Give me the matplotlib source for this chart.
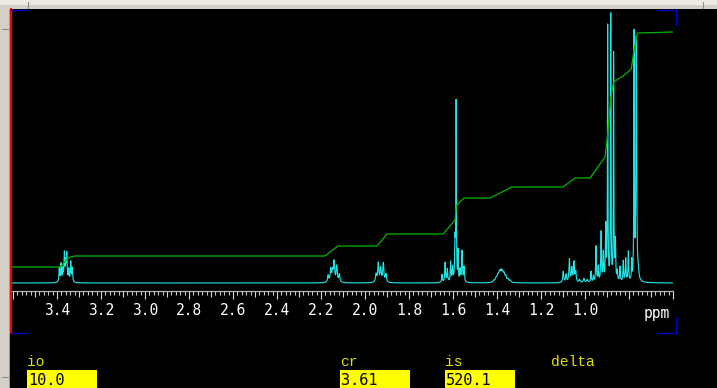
import numpy as np
import matplotlib
matplotlib.use("Agg")
import matplotlib.pyplot as plt
from matplotlib.patches import Rectangle
from matplotlib.ticker import MultipleLocator, FuncFormatter

plt.rcParams['font.family'] = ['DejaVu Sans Mono']

# peak list of the 1H spectrum: shift (ppm), height, half width (ppm)
shifts = [3.390, 3.382, 3.374, 3.367, 3.361, 3.356, 3.347, 3.338, 3.331,
          2.168, 2.156, 2.148, 2.141, 2.129, 2.117,
          1.950, 1.940, 1.929, 1.917, 1.905,
          1.650, 1.636, 1.626, 1.611, 1.602, 1.591, 1.586, 1.577, 1.568, 1.559, 1.550,
          1.415, 1.404, 1.396, 1.389, 1.382, 1.375, 1.368, 1.360, 1.350, 1.340,
          1.099, 1.086, 1.071, 1.060, 1.050, 1.042, 1.025, 1.005, 0.990,
          0.973, 0.962, 0.950, 0.940, 0.927, 0.917, 0.906, 0.897, 0.883, 0.870,
          0.862, 0.853, 0.841, 0.826, 0.815, 0.803, 0.788, 0.777, 0.767, 0.758,
          0.645]
heights = [14, 18, 12, 28, 18, 27, 12, 20, 14,
           7, 13, 10, 20, 16, 8,
           8, 19, 14, 19, 8,
           8, 20, 13, 20, 14, 40, 179, 30, 12, 31, 15,
           2, 4, 6, 8, 9, 8, 7, 5, 3, 2,
           11, 8, 23, 14, 20, 10, 3, 4, 3,
           11, 6, 36, 15, 50, 28, 55, 258, 268, 228,
           40, 10, 15, 21, 23, 30, 20, 244, 244, 8,
           2]
widths = [0.002] * 9 + [0.003] * 6 + [0.003] * 5 \
    + [0.002] * 6 + [0.0012] * 2 + [0.002] * 3 \
    + [0.004] * 10 + [0.0025] * 6 + [0.003] * 3 \
    + [0.0018] * 7 + [0.0012] * 3 + [0.0018] * 6 + [0.0012] * 2 + [0.002] \
    + [0.003]

# integral trace (ppm, integral units)
int_ppm = [3.61, 3.386, 3.373, 3.359, 3.341, 3.318, 2.182, 2.123, 1.945, 1.900,
           1.645, 1.591, 1.586, 1.582, 1.550, 1.432, 1.332, 1.100, 1.045, 0.977,
           0.909, 0.897, 0.883, 0.870, 0.827, 0.805, 0.790, 0.777, 0.768, 0.761, 0.600]
int_val = [16, 16, 19, 23, 26, 27, 27, 37, 37, 49,
           49, 63, 76, 78, 85, 85, 96, 96, 105, 105,
           126, 148, 185, 201, 207, 211, 214, 233, 243, 250, 251]

# parameter fields under the spectrum
par_names = ['io', 'cr', 'is', 'delta']
par_values = ['10.0', '3.61', '520.1', None]

W, H = 717, 388
PPM_LEFT, PPM_RIGHT = 3.605, 0.60

ppm = np.linspace(PPM_LEFT, PPM_RIGHT, 8000)
spec = np.zeros_like(ppm)
for c, h, w in zip(shifts, heights, widths):
    spec += h * w ** 2 / ((ppm - c) ** 2 + w ** 2)

fig = plt.figure(figsize=(W / 100, H / 100), dpi=100, facecolor='black')

# window frame drawn in pixel coordinates
frame = fig.add_axes([0, 0, 1, 1], zorder=0)
frame.set_xlim(0, W)
frame.set_ylim(H, 0)
frame.axis('off')
frame.add_patch(Rectangle((0, 0), 9, H, color='#d4d0c8', lw=0))
frame.add_patch(Rectangle((0, 0), W, 9, color='#d4d0c8', lw=0))
frame.add_patch(Rectangle((0, 0), W, 5, color='#ebebe4', lw=0))
frame.plot([8.5, 8.5], [9, H], color='#a0a0a0', lw=0.7)
frame.plot([28, 28], [2, 8], color='#909090', lw=0.8)
frame.plot([703, 703], [2, 8], color='#909090', lw=0.8)
frame.plot([2, 8], [29, 29], color='#909090', lw=0.8)
frame.plot([2, 8], [377, 377], color='#909090', lw=0.8)
frame.plot([10.5, 10.5], [9, 333], color='#ff0000', lw=1.4)
blue = '#0000c8'
frame.plot([11, 27], [9.5, 9.5], color=blue, lw=1.0)
frame.plot([658, 675.5, 675.5], [9.5, 9.5, 25], color=blue, lw=1.0)
frame.plot([675.5, 675.5, 657], [317, 332.5, 332.5], color=blue, lw=1.0)
frame.plot([11, 27], [332.5, 332.5], color=blue, lw=1.0)

# spectrum axes
ax = fig.add_axes([12 / W, 1 - 291 / H, 661 / W, 282 / H], zorder=2)
ax.set_facecolor('none')
ax.plot(ppm, spec, color='#22e6e6', lw=0.8)
ax.plot(int_ppm, int_val, color='#00b800', lw=0.9)
ax.set_xlim(PPM_LEFT, PPM_RIGHT)
ax.set_ylim(-8, 274)
ax.set_yticks([])
for side in ['top', 'left', 'right']:
    ax.spines[side].set_visible(False)
ax.spines['bottom'].set_color('#b4b4b4')
ax.spines['bottom'].set_linewidth(0.9)

ax.xaxis.set_major_locator(MultipleLocator(0.1))
ax.xaxis.set_minor_locator(MultipleLocator(0.02))


def fmt(v, pos):
    k = int(round(v * 10))
    if k % 2 == 0 and 10 <= k <= 34:
        return f'{v:.1f}'
    return ''


ax.xaxis.set_major_formatter(FuncFormatter(fmt))
ax.tick_params(axis='x', which='major', length=4.3, width=0.8, color='#d8d8d8',
               labelcolor='white', labelsize=10.5, pad=4)
ax.tick_params(axis='x', which='minor', length=2.9, width=0.8, color='#c8c8c8')
for loc, tick in zip(ax.get_xticks(), ax.xaxis.get_major_ticks()):
    if int(round(loc * 10)) % 2 == 0:
        tick.tick1line.set_markersize(5.8)

fig.text(644 / W, 1 - 318 / H, 'ppm', color='white', fontsize=10.5, va='baseline')

# parameter labels and yellow value fields
label_x = [27, 340, 445, 551]
for name, val, x in zip(par_names, par_values, label_x):
    fig.text(x / W, 1 - 366 / H, name, color='#e0e000', fontsize=10.5,
             family='Liberation Mono', va='baseline')
    if val is not None:
        frame.add_patch(Rectangle((x, 370), 70, 18, color='#ffff00', lw=0))
        fig.text((x + 1) / W, 1 - 385 / H, val, color='black', fontsize=11,
                 va='baseline')

fig.savefig('out.png', dpi=100, facecolor='black')
